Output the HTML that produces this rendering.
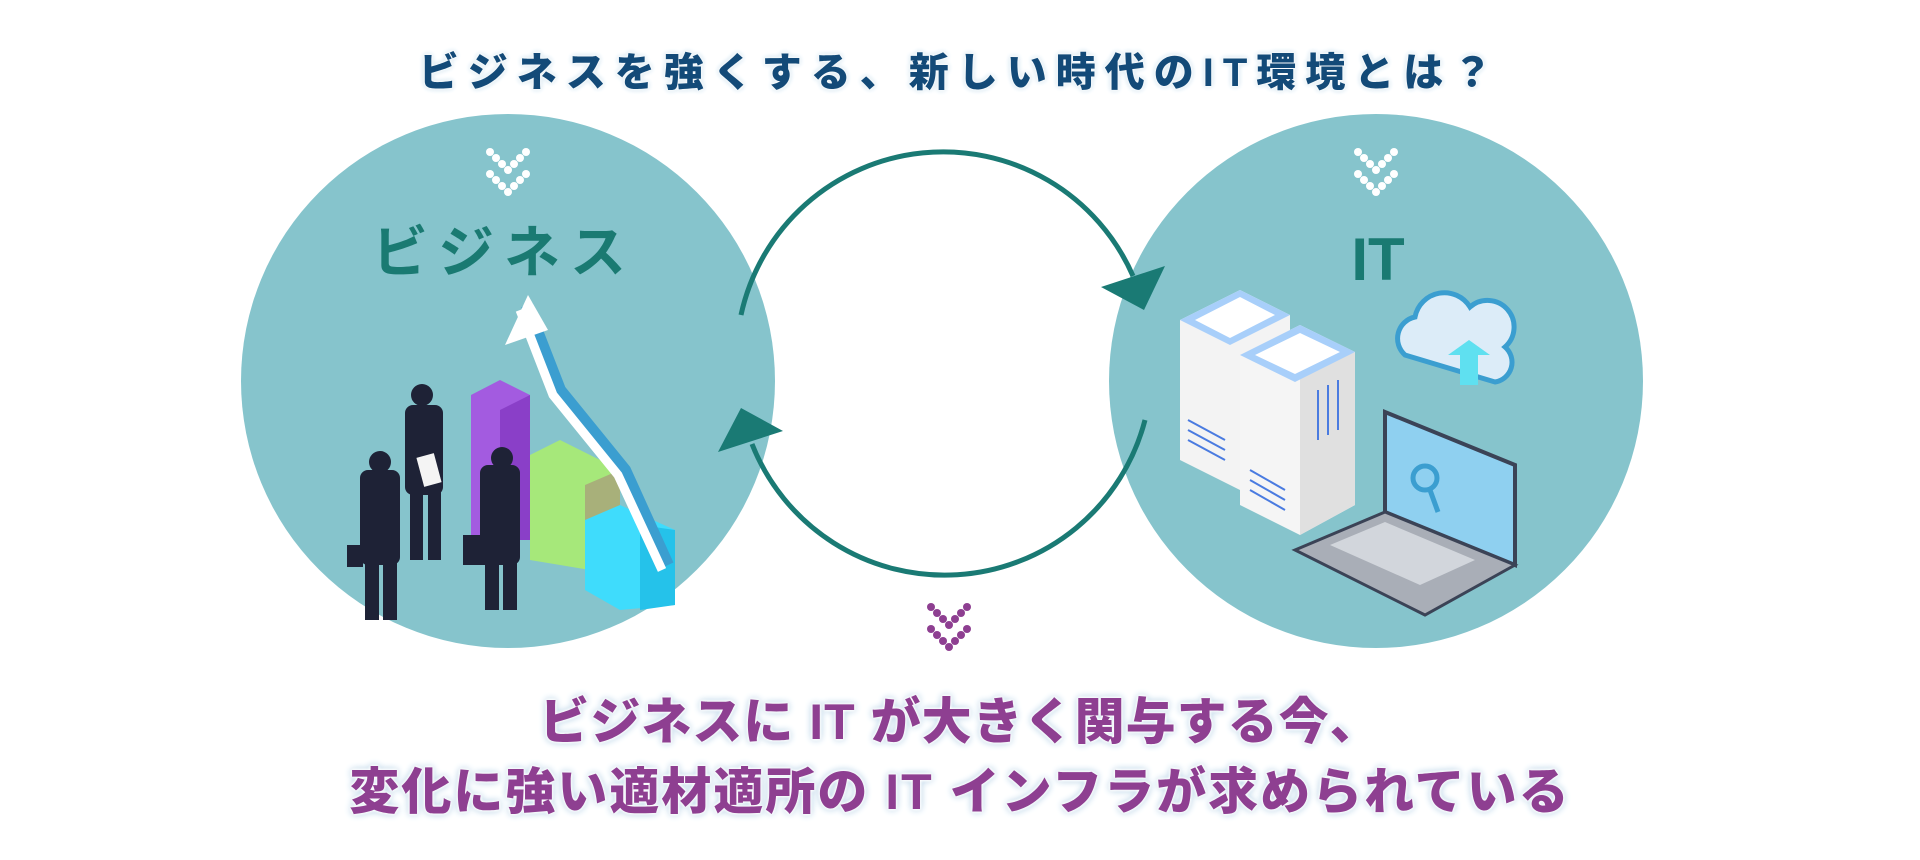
<!DOCTYPE html>
<html><head><meta charset="utf-8"><style>
html,body{margin:0;padding:0;background:#fff;}
body{width:1920px;height:860px;position:relative;overflow:hidden;font-family:"Liberation Sans","Noto Sans CJK JP",sans-serif;}
.t{position:absolute;left:0;width:1920px;text-align:center;font-weight:900;white-space:nowrap;}
#title{top:40px;font-size:40px;color:#134a78;letter-spacing:9px;text-shadow:0 0 3px #fff,0 0 3px #fff,0 0 6px #cfe3ef,0 0 6px #cfe3ef;}
.p{font-size:50px;color:#8e3f91;letter-spacing:1px;text-shadow:0 0 3px #fff,0 0 3px #fff,0 0 3px #fff,0 0 8px #bfd8ea,0 0 8px #bfd8ea;}
#l1{top:682px;}
#l2{top:752px;letter-spacing:2px;}
</style></head><body>
<svg width="1920" height="860" style="position:absolute;left:0;top:0">
<circle cx="508" cy="381" r="267" fill="#86c4cc"/>
<circle cx="1376" cy="381" r="267" fill="#86c4cc"/>
<g fill="#fff"><circle cx="490" cy="152" r="4"/><circle cx="496" cy="158" r="4"/><circle cx="502" cy="164" r="4"/><circle cx="508" cy="170" r="4"/><circle cx="514" cy="164" r="4"/><circle cx="520" cy="158" r="4"/><circle cx="526" cy="152" r="4"/><circle cx="490" cy="174" r="4"/><circle cx="496" cy="180" r="4"/><circle cx="502" cy="186" r="4"/><circle cx="508" cy="192" r="4"/><circle cx="514" cy="186" r="4"/><circle cx="520" cy="180" r="4"/><circle cx="526" cy="174" r="4"/></g>
<g fill="#fff"><circle cx="1358" cy="152" r="4"/><circle cx="1364" cy="158" r="4"/><circle cx="1370" cy="164" r="4"/><circle cx="1376" cy="170" r="4"/><circle cx="1382" cy="164" r="4"/><circle cx="1388" cy="158" r="4"/><circle cx="1394" cy="152" r="4"/><circle cx="1358" cy="174" r="4"/><circle cx="1364" cy="180" r="4"/><circle cx="1370" cy="186" r="4"/><circle cx="1376" cy="192" r="4"/><circle cx="1382" cy="186" r="4"/><circle cx="1388" cy="180" r="4"/><circle cx="1394" cy="174" r="4"/></g>
<g fill="#8e3f91"><circle cx="931" cy="607" r="4"/><circle cx="937" cy="613" r="4"/><circle cx="943" cy="619" r="4"/><circle cx="949" cy="625" r="4"/><circle cx="955" cy="619" r="4"/><circle cx="961" cy="613" r="4"/><circle cx="967" cy="607" r="4"/><circle cx="931" cy="629" r="4"/><circle cx="937" cy="635" r="4"/><circle cx="943" cy="641" r="4"/><circle cx="949" cy="647" r="4"/><circle cx="955" cy="641" r="4"/><circle cx="961" cy="635" r="4"/><circle cx="967" cy="629" r="4"/></g>
<text x="504" y="272" text-anchor="middle" font-size="56" font-weight="700" fill="#1a7a72" letter-spacing="10" font-family="Liberation Sans,Noto Sans CJK JP,sans-serif">ビジネス</text>
<text x="1378" y="280" text-anchor="middle" font-size="60" font-weight="700" fill="#1a7a72" font-family="Liberation Sans,sans-serif">IT</text>
<path d="M741,315 A207,207 0 0 1 1133,276" fill="none" stroke="#1a7a74" stroke-width="5"/>
<path d="M1145,420 A207,207 0 0 1 752,444" fill="none" stroke="#1a7a74" stroke-width="5"/>
<polygon points="1101,287 1165,266 1144,310" fill="#1a7a74"/>
<polygon points="741,408 783,431 718,452" fill="#1a7a74"/>
<polygon points="471,395 500,380 530,395 530,540 471,540" fill="#a35be0"/>
<polygon points="500,410 530,395 530,540 500,540" fill="#8a3fc8"/>
<polygon points="530,455 560,440 620,470 620,575 530,560" fill="#a6e87a"/>
<polygon points="585,485 620,470 620,575 585,575" fill="#a8b07a"/>
<polygon points="585,520 620,505 675,530 675,605 620,610 585,590" fill="#3fdcfc"/>
<polygon points="640,525 675,530 675,605 640,610" fill="#25c2ea"/>
<polyline points="527,305 560,390 625,470 668,565" fill="none" stroke="#3b9ed0" stroke-width="12"/>
<polyline points="520,310 553,395 618,475 662,570" fill="none" stroke="#fff" stroke-width="9"/>
<polygon points="528,295 505,345 548,330" fill="#fff"/>
<g fill="#1e2236">
<rect x="405" y="405" width="38" height="90" rx="8"/><rect x="410" y="490" width="13" height="70"/><rect x="428" y="490" width="13" height="70"/><circle cx="422" cy="395" r="11"/>
<rect x="360" y="470" width="40" height="95" rx="8"/><rect x="365" y="560" width="14" height="60"/><rect x="383" y="560" width="14" height="60"/><circle cx="380" cy="462" r="11"/>
<rect x="480" y="465" width="40" height="100" rx="8"/><rect x="485" y="560" width="14" height="50"/><rect x="503" y="560" width="14" height="50"/><circle cx="502" cy="458" r="11"/>
<rect x="347" y="545" width="16" height="22"/><rect x="463" y="535" width="22" height="30"/>
</g>
<rect x="420" y="455" width="18" height="30" fill="#f4f4f4" transform="rotate(-15 429 470)"/>
<polygon points="1180,320 1240,290 1290,315 1290,465 1240,490 1180,460" fill="#f3f3f3"/>
<polygon points="1180,320 1240,290 1290,315 1230,345" fill="#a8cffa"/>
<polygon points="1195,320 1240,297 1275,315 1230,338" fill="#fff"/>
<polygon points="1240,355 1300,325 1355,352 1355,505 1300,535 1240,505" fill="#f5f5f5"/>
<polygon points="1300,375 1355,352 1355,505 1300,535" fill="#e0e0e0"/>
<polygon points="1240,355 1300,325 1355,352 1295,382" fill="#a8cffa"/>
<polygon points="1255,355 1300,333 1340,352 1295,374" fill="#fff"/>
<g stroke="#4a7be0" stroke-width="2"><line x1="1188" y1="420" x2="1225" y2="440"/><line x1="1188" y1="430" x2="1225" y2="450"/><line x1="1188" y1="440" x2="1225" y2="460"/><line x1="1250" y1="470" x2="1285" y2="490"/><line x1="1250" y1="480" x2="1285" y2="500"/><line x1="1250" y1="490" x2="1285" y2="510"/><line x1="1318" y1="390" x2="1318" y2="440"/><line x1="1328" y1="385" x2="1328" y2="435"/><line x1="1338" y1="380" x2="1338" y2="430"/></g>
<path d="M1405,355 a22,22 0 0 1 10,-38 a30,30 0 0 1 55,-10 a25,25 0 0 1 35,40 a20,20 0 0 1 -10,35 z" fill="#dcecf8" stroke="#3b9ed0" stroke-width="5"/>
<polygon points="1460,355 1460,385 1478,385 1478,355 1490,355 1469,340 1448,355" fill="#5fe0f0"/>
<polygon points="1385,412 1515,465 1515,565 1385,512" fill="#8fd0f0" stroke="#3b4356" stroke-width="4"/>
<polygon points="1295,550 1385,512 1515,565 1425,615" fill="#a9aeb7" stroke="#3b4356" stroke-width="3"/>
<polygon points="1330,545 1385,522 1475,560 1420,585" fill="#d2d6dc"/>
<circle cx="1425" cy="478" r="12" fill="none" stroke="#3b9ed0" stroke-width="5"/>
<line x1="1430" y1="490" x2="1438" y2="512" stroke="#3b9ed0" stroke-width="5"/>
</svg>
<div id="title" class="t">ビジネスを強くする、新しい時代のIT環境とは？</div>
<div id="l1" class="t p">ビジネスに IT が大きく関与する今、</div>
<div id="l2" class="t p">変化に強い適材適所の IT インフラが求められている</div>
</body></html>
